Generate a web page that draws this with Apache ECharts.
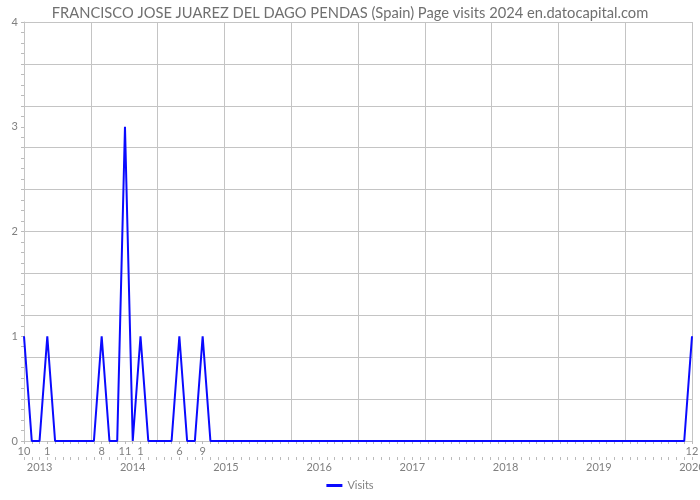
<!DOCTYPE html>
<html>
<head>
<meta charset="utf-8">
<script src="https://cdn.jsdelivr.net/npm/echarts@6/dist/echarts.min.js"></script>
<style>html,body{margin:0;padding:0;background:#fff}#c{width:700px;height:500px}</style>
</head>
<body>
<div id="c"></div>
<script>
// Monthly data, Oct 2012 .. Dec 2019
var months = [];
(function(){ var y=2012,m=10; while(y<2019 || (y===2019 && m<=12)){ months.push(y+'-'+m); m++; if(m>12){m=1;y++;} } })();
var visits = [1,0,0,1,0,0,0,0,0,0,1,0,0,3,0,1,0,0,0,0,1,0,0,1,0,0,0,0,0,0,0,0,0,0,0,0,0,0,0,0,0,0,0,0,0,0,0,0,0,0,0,0,0,0,0,0,0,0,0,0,0,0,0,0,0,0,0,0,0,0,0,0,0,0,0,0,0,0,0,0,0,0,0,0,0,0,1];
var monthLabels = {0:'10',3:'1',10:'8',13:'11',15:'1',20:'6',23:'9',86:'12'};
var yearLabels = {2:'2013',14:'2014',26:'2015',38:'2016',50:'2017',62:'2018',74:'2019',86:'2020'};
var yTickLabels = ['0','1','2','3','4'];

var font = 'Lato';
var txt = '#808080';
var gridC = '#c4c4c4';
var seriesData = visits.map(function(v,i){return [i,v];});

var chart = echarts.init(document.getElementById('c'));
chart.setOption({
  animation:false,
  title:{text:'FRANCISCO JOSE JUAREZ DEL DAGO PENDAS (Spain) Page visits 2024 en.datocapital.com',left:'center',top:1,
    textStyle:{fontFamily:font,fontSize:14.7,fontWeight:'normal',color:'#707070'}},
  legend:{bottom:4,left:'center',icon:'rect',itemWidth:16,itemHeight:3,data:['Visits'],
    textStyle:{fontFamily:font,fontSize:11,color:txt}},
  grid:{left:24,right:8,top:22,bottom:59,outerBoundsMode:'none',containLabel:false},
  xAxis:[
    {type:'value',min:0,max:visits.length-1,interval:(visits.length-1)/10,
     axisLine:{show:true,lineStyle:{color:gridC}},axisTick:{show:false},axisLabel:{show:false},
     splitLine:{show:true,lineStyle:{color:gridC,width:1}}},
    {type:'category',data:months,boundaryGap:false,position:'bottom',
     axisLine:{show:false},axisTick:{show:true,interval:0,length:3,lineStyle:{color:'#bbb'}},
     axisLabel:{interval:0,margin:5,fontFamily:font,fontSize:11,color:txt,hideOverlap:false,
       formatter:function(v,i){return monthLabels[i]||'';}},
     splitLine:{show:false}},
    {type:'category',data:months,boundaryGap:false,position:'bottom',offset:16,
     axisLine:{show:false},axisTick:{show:true,interval:0,length:3,lineStyle:{color:'#bbb'}},
     axisLabel:{interval:0,margin:5,fontFamily:font,fontSize:11,color:txt,hideOverlap:false,
       formatter:function(v,i){return yearLabels[i]||'';}},
     splitLine:{show:false}}
  ],
  yAxis:[
    {type:'value',min:0,max:4,interval:0.4,axisLine:{show:false},axisTick:{show:false},axisLabel:{show:false},
     splitLine:{show:true,lineStyle:{color:gridC,width:1}}},
    {type:'value',min:0,max:4,interval:0.1,position:'left',
     axisLine:{show:true,lineStyle:{color:gridC}},axisTick:{show:true,length:3,lineStyle:{color:'#bbb'}},
     axisLabel:{margin:6,fontFamily:font,fontSize:11,color:txt,showMinLabel:true,showMaxLabel:true,
       formatter:function(v){var r=Math.round(v);return Math.abs(v-r)<1e-6?yTickLabels[r]:'';}},
     splitLine:{show:false}}
  ],
  series:[{name:'Visits',type:'line',xAxisIndex:0,yAxisIndex:0,data:seriesData,showSymbol:false,symbol:'none',
    lineStyle:{color:'#0a0aff',width:2},itemStyle:{color:'#0a0aff'}}]
});
</script>
</body>
</html>
